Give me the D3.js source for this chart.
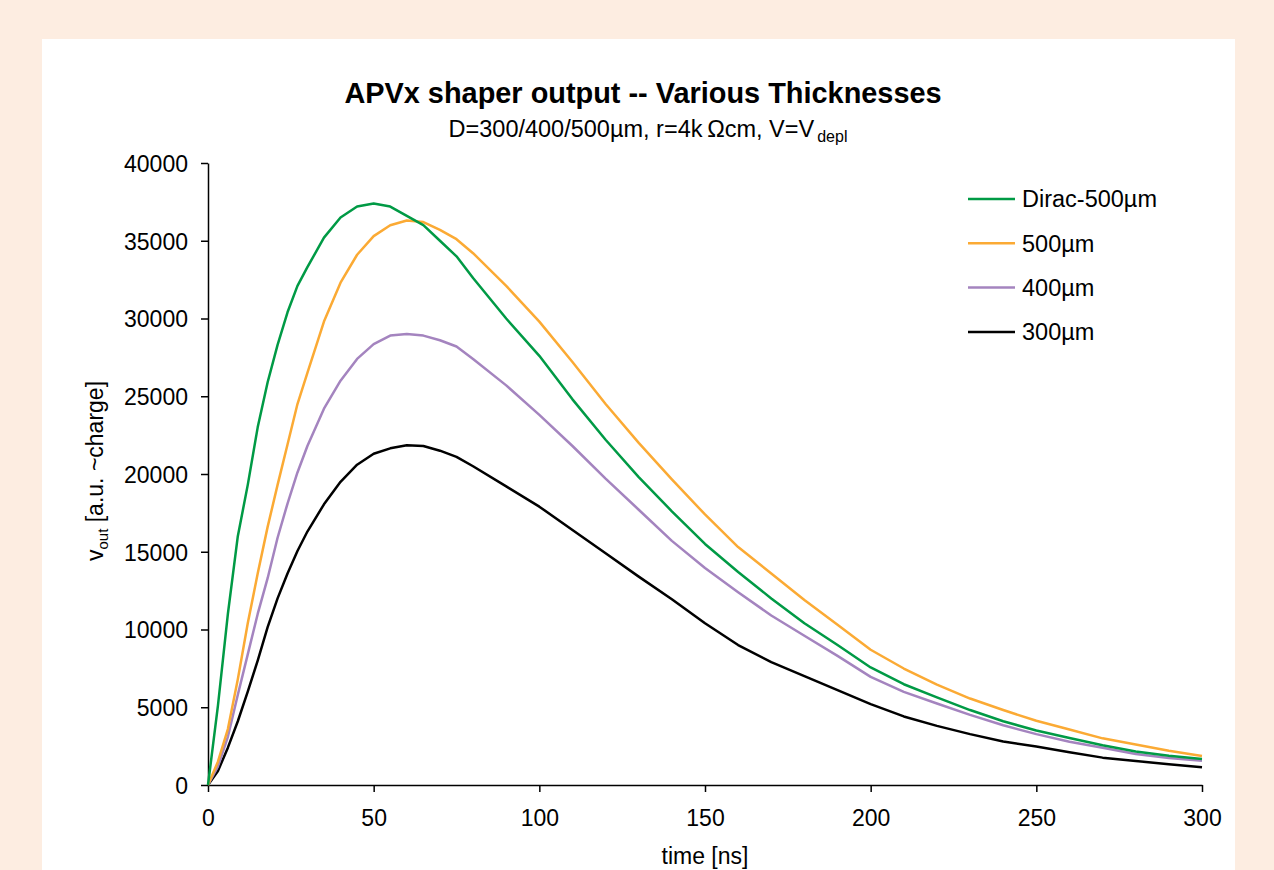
<!DOCTYPE html>
<html>
<head>
  <meta charset="utf-8">
  <script src="https://d3js.org/d3.v7.min.js"></script>
  <style>
    body { margin: 0; background: #fdede1; overflow: hidden; }
    svg text { font-family: "Liberation Sans", Arial, Helvetica, sans-serif; }
  </style>
</head>
<body>
  <script>
    // time axis in ns, values in a.u.
    var time = [0, 3, 6, 9, 12, 15, 18, 21, 24, 27, 30,
      35, 40, 45, 50, 55, 60, 65, 70, 75, 80,
      90, 100, 110, 120, 130, 140, 150, 160, 170, 180, 190, 200,
      210, 220, 230, 240, 250, 260, 270, 280, 290, 300];

    var dirac500 = [0, 5100, 11000, 16000, 19300, 23000, 25900, 28300, 30400, 32100, 33300,
      35200, 36500, 37200, 37400, 37200, 36600, 36000, 35000, 34000, 32600,
      30000, 27600, 24800, 22200, 19800, 17600, 15500, 13700, 12000, 10400, 9000, 7560,
      6480, 5630, 4820, 4100, 3500, 3020, 2560, 2160, 1880, 1670];

    var um500 = [0, 1500, 3600, 6800, 10400, 13600, 16600, 19300, 21900, 24500, 26500,
      29800, 32300, 34100, 35300, 36000, 36300, 36200, 35700, 35100, 34200,
      32100, 29800, 27200, 24500, 22000, 19650, 17400, 15300, 13600, 11900, 10300, 8700,
      7490, 6450, 5560, 4820, 4130, 3570, 3000, 2600, 2200, 1870];

    var um400 = [0, 1200, 3100, 5800, 8400, 11000, 13300, 15900, 18100, 20100, 21800,
      24200, 26000, 27400, 28350, 28900, 29000, 28900, 28600, 28200, 27400,
      25700, 23800, 21800, 19700, 17700, 15700, 13960, 12400, 10900, 9600, 8300, 6950,
      5990, 5240, 4510, 3840, 3270, 2780, 2390, 2000, 1740, 1560];

    var um300 = [0, 900, 2400, 4100, 6000, 8000, 10150, 12000, 13600, 15050, 16300,
      18050, 19500, 20600, 21300, 21650, 21850, 21800, 21500, 21100, 20500,
      19200, 17900, 16400, 14900, 13400, 11950, 10400, 9000, 7900, 7000, 6100, 5200,
      4410, 3800, 3270, 2800, 2470, 2100, 1760, 1550, 1340, 1140];

    var seriesNames = ["Dirac-500\u00b5m", "500\u00b5m", "400\u00b5m", "300\u00b5m"];
    var seriesValues = [dirac500, um500, um400, um300];
    var seriesColors = ["#009a45", "#fbaa34", "#a484bf", "#000000"];

    var yTicks = [0, 5000, 10000, 15000, 20000, 25000, 30000, 35000, 40000];
    var xTicks = [0, 50, 100, 150, 200, 250, 300];

    var W = 1274, H = 870;
    var svg = d3.select("body").append("svg")
      .attr("width", W).attr("height", H);

    // white chart panel
    svg.append("rect")
      .attr("x", 42).attr("y", 39)
      .attr("width", 1193).attr("height", H)
      .attr("fill", "#fff");

    var x = d3.scaleLinear().domain([0, 300]).range([208, 1202]);
    var y = d3.scaleLinear().domain([0, 40000]).range([785, 163]);

    /* Axes */
    var yAxis = svg.append("g")
      .attr("transform", "translate(" + x(0) + ",0)")
      .call(d3.axisLeft(y).tickValues(yTicks).tickSize(7).tickSizeOuter(0)
        .tickPadding(13).tickFormat(d3.format("d")));

    var xAxis = svg.append("g")
      .attr("transform", "translate(0," + y(0) + ")")
      .call(d3.axisBottom(x).tickValues(xTicks).tickSize(7).tickSizeOuter(0)
        .tickPadding(18));

    [xAxis, yAxis].forEach(function(g) {
      g.selectAll("path, line").attr("stroke", "#000").attr("stroke-width", 1.5);
      g.selectAll("text").attr("font-size", "23px").attr("fill", "#000")
        .style("font-family", "'Liberation Sans', Arial, sans-serif");
    });
    yAxis.selectAll("text").attr("dy", "0.36em");

    /* Curves */
    var line = d3.line()
      .x(function(d, i) { return x(time[i]); })
      .y(function(d) { return y(d); });

    // draw black first so the coloured ones end up on top like the original
    var order = [3, 2, 1, 0];
    order.forEach(function(k) {
      svg.append("path")
        .datum(seriesValues[k])
        .attr("d", line)
        .attr("fill", "none")
        .attr("stroke", seriesColors[k])
        .attr("stroke-width", 2.5)
        .attr("stroke-linejoin", "round");
    });

    /* Legend */
    var legend = svg.selectAll("g.leg")
      .data(seriesNames)
      .enter().append("g")
      .attr("class", "leg")
      .attr("transform", function(d, i) { return "translate(968," + (199 + i * 44.3) + ")"; });

    legend.append("line")
      .attr("x1", 0).attr("x2", 47)
      .attr("stroke", function(d, i) { return seriesColors[i]; })
      .attr("stroke-width", 2.5);

    legend.append("text")
      .attr("x", 54).attr("dy", "0.36em")
      .attr("font-size", "23.5px")
      .text(function(d) { return d; });

    /* Titles */
    svg.append("text")
      .attr("x", 643).attr("y", 103)
      .attr("text-anchor", "middle")
      .attr("font-size", "28.9px").attr("font-weight", "bold")
      .text("APVx shaper output -- Various Thicknesses");

    var sub = svg.append("text")
      .attr("x", 648).attr("y", 137)
      .attr("text-anchor", "middle")
      .attr("font-size", "23.5px");
    sub.append("tspan").text("D=300/400/500\u00b5m, r=4k\u2009\u03a9cm, V=V");
    sub.append("tspan").attr("dx", 3).attr("dy", 5).attr("font-size", "16px").text("depl");

    var ylab = svg.append("text")
      .attr("transform", "translate(103,471) rotate(-90)")
      .attr("text-anchor", "middle")
      .attr("font-size", "23px");
    ylab.append("tspan").text("v");
    ylab.append("tspan").attr("dy", 5).attr("font-size", "15px").text("out");
    ylab.append("tspan").attr("dy", -5).text(" [a.u. ~charge]");

    svg.append("text")
      .attr("x", 705).attr("y", 864)
      .attr("text-anchor", "middle")
      .attr("font-size", "23px")
      .text("time [ns]");
  </script>
</body>
</html>
